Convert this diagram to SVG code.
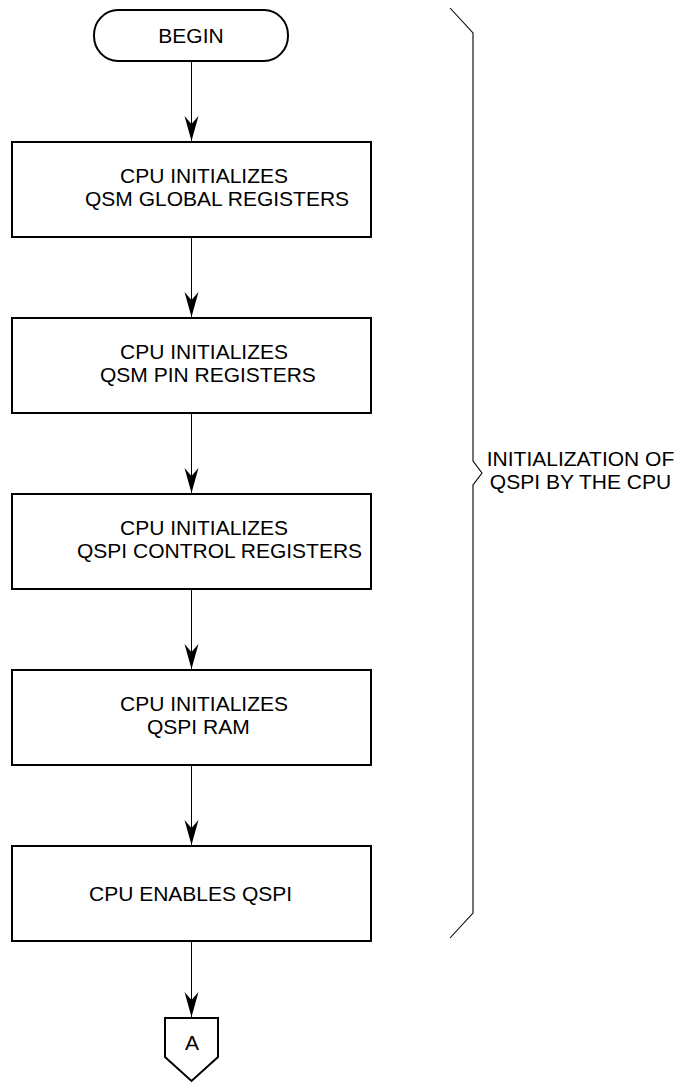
<svg xmlns="http://www.w3.org/2000/svg" width="691" height="1083" viewBox="0 0 691 1083">
<style>
.box{fill:#fff;stroke:#000;stroke-width:2}
.t{font-family:"Liberation Sans",Arial,sans-serif;font-size:21px;fill:#000}
.c{text-anchor:middle}
.ln{fill:none;stroke:#000;stroke-width:1}
.br{fill:none;stroke:#000;stroke-width:1.1}
</style>
<defs>
<marker id="ah" markerUnits="userSpaceOnUse" viewBox="-26 -8 27 16" markerWidth="27" markerHeight="16" refX="0" refY="0" orient="auto">
<path d="M0,0 L-25,-7 L-17,0 L-25,7 Z" fill="#000"/>
</marker>
</defs>
<rect width="691" height="1083" fill="#fff"/>
<g id="connectors">
<line class="ln" x1="191.5" y1="61" x2="191.5" y2="141" marker-end="url(#ah)"/>
<line class="ln" x1="191.5" y1="238" x2="191.5" y2="317" marker-end="url(#ah)"/>
<line class="ln" x1="191.5" y1="414" x2="191.5" y2="493" marker-end="url(#ah)"/>
<line class="ln" x1="191.5" y1="590" x2="191.5" y2="669" marker-end="url(#ah)"/>
<line class="ln" x1="191.5" y1="766" x2="191.5" y2="845" marker-end="url(#ah)"/>
<line class="ln" x1="191.5" y1="942" x2="191.5" y2="1017" marker-end="url(#ah)"/>
</g>
<g id="begin">
<rect class="box" x="94" y="10" width="194" height="51" rx="24" ry="25"/>
<text class="t c" x="191" y="43">BEGIN</text>
</g>
<g id="step1">
<rect class="box" x="12" y="142" width="359" height="95"/>
<text class="t" x="120" y="183">CPU INITIALIZES</text>
<text class="t" x="85" y="206">QSM GLOBAL REGISTERS</text>
</g>
<g id="step2">
<rect class="box" x="12" y="318" width="359" height="95"/>
<text class="t" x="120" y="359">CPU INITIALIZES</text>
<text class="t" x="100" y="382">QSM PIN REGISTERS</text>
</g>
<g id="step3">
<rect class="box" x="12" y="494" width="359" height="95"/>
<text class="t" x="120" y="535">CPU INITIALIZES</text>
<text class="t" x="77" y="558">QSPI CONTROL REGISTERS</text>
</g>
<g id="step4">
<rect class="box" x="12" y="670" width="359" height="95"/>
<text class="t" x="120" y="711">CPU INITIALIZES</text>
<text class="t" x="147" y="734">QSPI RAM</text>
</g>
<g id="step5">
<rect class="box" x="12" y="846" width="359" height="95"/>
<text class="t" x="89" y="901">CPU ENABLES QSPI</text>
</g>
<g id="connectorA">
<path class="box" d="M165,1018 L218,1018 L218,1057 L191.5,1081 L165,1057 Z"/>
<text class="t c" x="192" y="1050">A</text>
</g>
<g id="brace">
<path class="br" d="M450,8 L473,33 L473,461 L482,473 L473,485 L473,913 L450,938"/>
<text class="t c" x="580.5" y="466">INITIALIZATION OF</text>
<text class="t c" x="580.5" y="489">QSPI BY THE CPU</text>
</g>
</svg>
